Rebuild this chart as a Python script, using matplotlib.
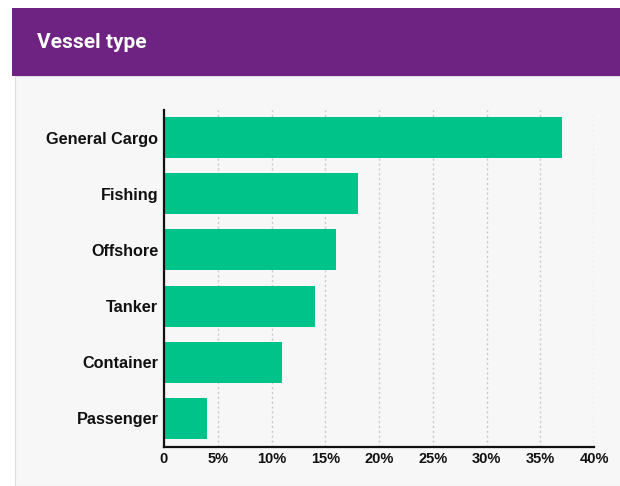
import matplotlib.pyplot as plt
from matplotlib.patches import Rectangle
from matplotlib.ticker import FuncFormatter

# vessel categories, top to bottom, and their share of the total (%)
vessel_types = ["General Cargo", "Fishing", "Offshore", "Tanker", "Container", "Passenger"]
shares = [37, 18, 16, 14, 11, 4]
x_ticks = [0, 5, 10, 15, 20, 25, 30, 35, 40]

PURPLE = "#6e2282"
GREEN = "#00c389"
PANEL = "#f7f7f7"

plt.rcParams["font.family"] = ["Liberation Sans", "DejaVu Sans"]

W, H = 620, 486
fig = plt.figure(figsize=(W / 100, H / 100), dpi=100)
fig.patch.set_facecolor("white")

# background panel and purple header band (kept behind the axes)
fig.patches.append(Rectangle((15 / W, 0), 1, 1 - 76 / H, transform=fig.transFigure,
                             facecolor=PANEL, edgecolor="#dddddd", lw=0.8, zorder=-2))
fig.patches.append(Rectangle((12 / W, 1 - 76 / H), 1, 68 / H, transform=fig.transFigure,
                             facecolor=PURPLE, edgecolor="none", zorder=-1))
fig.text(37 / W, 1 - 43 / H, "Vessel type", color="white", fontsize=15,
         fontweight="bold", va="center", ha="left", family=["Roboto", "DejaVu Sans"])

ax = fig.add_axes([164 / W, 1 - 447 / H, (594 - 164) / W, (447 - 110) / H])
ax.set_facecolor(PANEL)

ypos = list(range(len(vessel_types)))[::-1]
ax.barh(ypos, shares, height=0.73, color=GREEN, zorder=3)

ax.set_xlim(0, 40)
ax.set_ylim(-0.51, 5.49)
ax.set_xticks(x_ticks)
ax.xaxis.set_major_formatter(FuncFormatter(lambda v, _: "0" if v == 0 else f"{v:.0f}%"))
ax.set_yticks(ypos)
ax.set_yticklabels(vessel_types)
ax.tick_params(axis="both", length=0, labelsize=11.7, colors="#111111")
ax.tick_params(axis="y", pad=4)
ax.tick_params(axis="x", pad=3.5, labelsize=10.5)
for lab in ax.get_xticklabels() + ax.get_yticklabels():
    lab.set_fontweight("bold")

ax.grid(axis="x", color="#c8c8c8", linestyle=(0, (1.5, 2)), lw=1, zorder=1)
for s in ("top", "right"):
    ax.spines[s].set_visible(False)
for s in ("left", "bottom"):
    ax.spines[s].set_color("#111111")
    ax.spines[s].set_linewidth(1.6)
    ax.spines[s].set_zorder(4)

fig.savefig("out.png", dpi=100)
